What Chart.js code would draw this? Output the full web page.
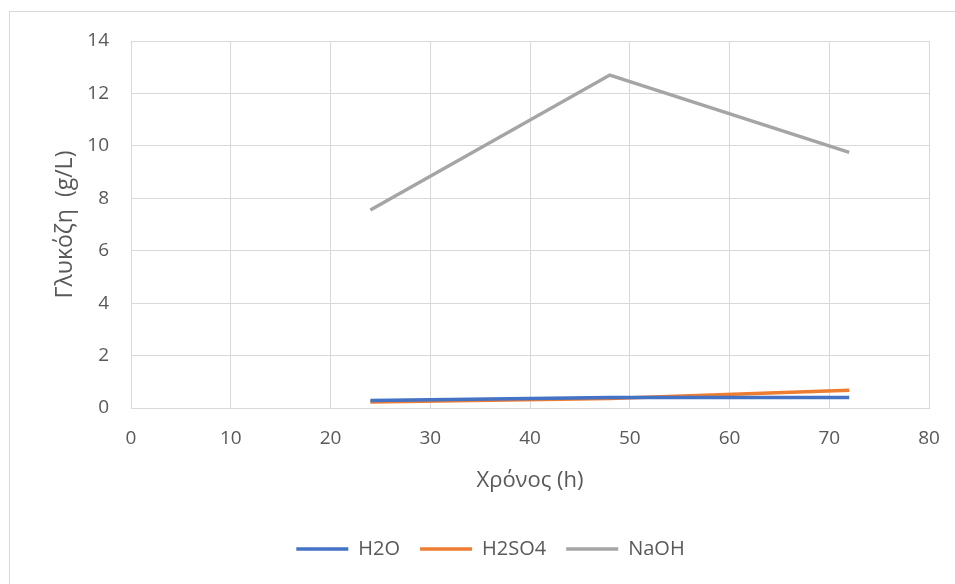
<!DOCTYPE html>
<html>
<head>
<meta charset="utf-8">
<title>Γλυκόζη</title>
<script src="https://cdn.jsdelivr.net/npm/chart.js@4"></script>
<style>
    body { margin: 0; background: #fff; }
    .marco { position: absolute; left: 9px; top: 11px; width: 1000px; height: 700px; border: 1px solid #d9d9d9; }
    #myChart { position: absolute; left: 0; top: 0; }
</style>
</head>
<body>
<div class="marco"></div>
<canvas id="myChart" width="955" height="584"></canvas>
<script>
const horas = [24, 48, 72];
const valoresH2O = [0.29, 0.40, 0.40];
const valoresH2SO4 = [0.23, 0.36, 0.68];
const valoresNaOH = [7.55, 12.7, 9.75];
const nombres = ['H2O', 'H2SO4', 'NaOH'];
const colores = ['#4472c4', '#ed7d31', '#a5a5a5'];
const ticksX = [0, 10, 20, 30, 40, 50, 60, 70, 80];
const ticksY = [0, 2, 4, 6, 8, 10, 12, 14];

const fuente = "'Open Sans', 'Noto Sans', sans-serif";
const grisTexto = '#595959';
const grisLinea = '#d9d9d9';

function serie(nombre, valores, color) {
    return {
        label: nombre,
        data: horas.map((h, i) => ({ x: h, y: valores[i] })),
        borderColor: color,
        backgroundColor: color,
        borderWidth: 3.5,
        pointRadius: 0,
        pointHoverRadius: 0,
        pointStyle: 'line',
        pointBorderColor: color,
        pointBackgroundColor: color,
        pointBorderWidth: 3.5,
        showLine: true,
        tension: 0
    };
}

const ctx = document.getElementById('myChart').getContext('2d');

new Chart(ctx, {
    type: 'scatter',
    data: {
        datasets: [
            serie(nombres[0], valoresH2O, colores[0]),
            serie(nombres[1], valoresH2SO4, colores[1]),
            serie(nombres[2], valoresNaOH, colores[2])
        ]
    },
    options: {
        responsive: false,
        animation: false,
        layout: {
            padding: { left: 52, top: 41, right: 26, bottom: 15 }
        },
        scales: {
            x: {
                type: 'linear',
                min: 0,
                max: 80,
                afterBuildTicks: axis => { axis.ticks = ticksX.map(v => ({ value: v })); },
                afterFit: axis => {
                    axis.height = 111;
                    axis.paddingLeft = 0;
                    axis.paddingRight = 0;
                },
                grid: { color: grisLinea, lineWidth: 1, drawTicks: false },
                border: { color: grisLinea, width: 1 },
                ticks: { color: grisTexto, font: { family: fuente, size: 19 }, padding: 19, maxRotation: 0 },
                title: {
                    display: true,
                    text: 'Χρόνος (h)',
                    color: grisTexto,
                    font: { family: fuente, size: 22 },
                    padding: { top: 0, bottom: 25 }
                }
            },
            y: {
                min: 0,
                max: 14,
                afterBuildTicks: axis => { axis.ticks = ticksY.map(v => ({ value: v })); },
                afterFit: axis => {
                    axis.width = 79;
                    axis.paddingTop = 0;
                    axis.paddingBottom = 0;
                },
                grid: { color: grisLinea, lineWidth: 1, drawTicks: false },
                border: { color: grisLinea, width: 1 },
                ticks: { color: grisTexto, font: { family: fuente, size: 19 }, padding: 22 },
                title: {
                    display: true,
                    text: 'Γλυκόζη  (g/L)',
                    color: grisTexto,
                    font: { family: fuente, size: 23 },
                    padding: 0
                }
            }
        },
        plugins: {
            legend: {
                display: true,
                position: 'bottom',
                labels: {
                    color: grisTexto,
                    font: { family: fuente, size: 20 },
                    usePointStyle: true,
                    pointStyleWidth: 52,
                    padding: 20
                }
            },
            tooltip: { enabled: false }
        }
    }
});
</script>
</body>
</html>
